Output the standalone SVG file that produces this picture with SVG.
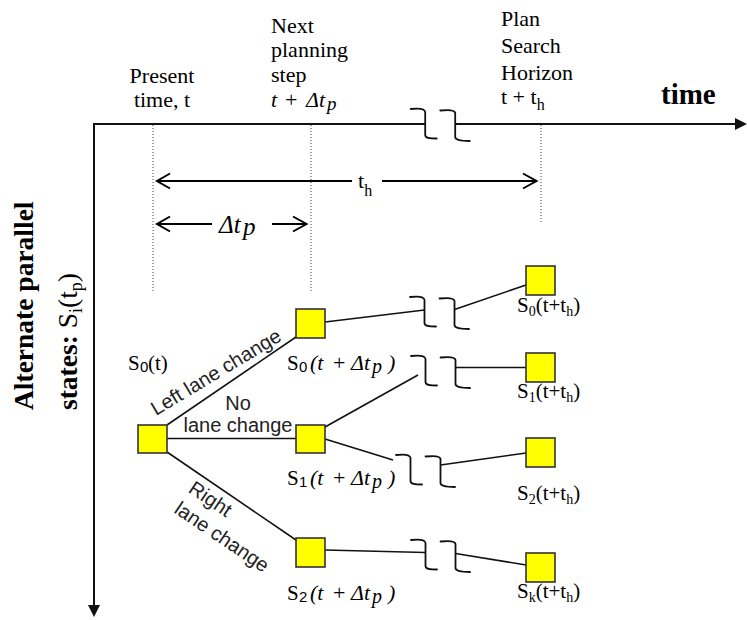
<svg xmlns="http://www.w3.org/2000/svg" width="747" height="620" viewBox="0 0 747 620" font-family="Liberation Serif, Times New Roman, serif">
<style>
text{fill:#000}
.sans{fill:#222}
.it{font-style:italic}
.b{font-weight:bold}
.axis{stroke:#111;stroke-width:2;fill:none}
.dot{stroke:#444;stroke-width:1;stroke-dasharray:1 2;fill:none}
.conn{stroke:#111;stroke-width:1.6;fill:none}
.brk{stroke:#111;stroke-width:1.8;fill:none;stroke-linecap:round}
.node{fill:#ffff00;stroke:#333;stroke-width:1.6}
.dim{stroke:#000;stroke-width:2;fill:none}
.lbl{font-size:21px}
.sub0{font-size:15px}
</style>
<defs>
<path id="brk" d="M0,0 C8,-1 14,-1 14.5,3 L14.5,26 C14.5,29 18,29.5 26,29.5 M29.5,1.5 C38,0.5 44,0.5 44.5,4 L44.5,28 C44.5,31 50,32 59,32"/>
</defs>

<g id="axes">
<line class="axis" x1="93" y1="124" x2="425" y2="124"/>
<line class="axis" x1="455" y1="124" x2="737" y2="124"/>
<polygon points="735,118 747,124 735,130" fill="#111"/>
<line class="axis" x1="94" y1="123" x2="94" y2="606"/>
<polygon points="88,605 100,605 94,617" fill="#111"/>
<use href="#brk" transform="translate(410.7,109)" class="brk"/>
<text class="b" x="661" y="104" font-size="29">time</text>
<text class="b" font-size="27.5" transform="translate(33,410) rotate(-90)">Alternate parallel</text>
<text class="b" font-size="27.5" transform="translate(77,410) rotate(-90)">states: <tspan font-weight="normal">S<tspan font-size="18" dy="5">i</tspan><tspan dy="-5">(t</tspan><tspan font-size="18" dy="5">p</tspan><tspan dy="-5">)</tspan></tspan></text>
</g>

<g id="timeline-labels" font-size="22">
<text x="162" y="83" text-anchor="middle">Present</text>
<text x="162" y="107" text-anchor="middle">time, t</text>
<text x="271" y="33">Next</text>
<text x="271" y="57">planning</text>
<text x="271" y="82">step</text>
<text y="107"><tspan x="271" class="it">t</tspan><tspan x="285">+</tspan><tspan x="306" class="it">Δt</tspan><tspan x="327" y="110" class="it" font-size="19">p</tspan></text>
<text x="501" y="26">Plan</text>
<text x="501" y="53">Search</text>
<text x="501" y="80">Horizon</text>
<text x="501" y="104">t + t<tspan font-size="16" dy="6">h</tspan></text>
</g>

<g id="guides">
<line class="dot" x1="153" y1="125" x2="153" y2="293"/>
<line class="dot" x1="311" y1="125" x2="311" y2="293"/>
<line class="dot" x1="541" y1="125" x2="541" y2="223"/>
<line class="dim" x1="157" y1="181" x2="352" y2="181"/>
<line class="dim" x1="382" y1="181" x2="536" y2="181"/>
<polyline class="dim" points="170,173.5 157,181 170,188.5"/>
<polyline class="dim" points="523,173.5 536.5,181 523,188.5"/>
<text x="358" y="188" font-size="22">t<tspan font-size="16" dy="8">h</tspan></text>
<line class="dim" x1="157" y1="224" x2="212" y2="224"/>
<line class="dim" x1="272" y1="224" x2="306" y2="224"/>
<polyline class="dim" points="170,216.5 157,224 170,231.5"/>
<polyline class="dim" points="293,216.5 306.5,224 293,231.5"/>
<text class="it" y="233" font-size="25"><tspan x="219">Δt</tspan><tspan x="243" y="235" font-size="25">p</tspan></text>
</g>

<g id="connectors">
<line class="conn" x1="167" y1="425" x2="296" y2="337"/>
<line class="conn" x1="167" y1="438.5" x2="296" y2="438.5"/>
<line class="conn" x1="167" y1="452" x2="296" y2="540"/>
<line class="conn" x1="325" y1="322" x2="424.5" y2="310"/>
<line class="conn" x1="454.5" y1="309.5" x2="526" y2="285"/>
<use href="#brk" transform="translate(410,297)" class="brk"/>
<line class="conn" x1="325" y1="427" x2="418" y2="375"/>
<line class="conn" x1="455.5" y1="367.5" x2="526" y2="367.5"/>
<use href="#brk" transform="translate(411,356)" class="brk"/>
<line class="conn" x1="325" y1="439" x2="393" y2="460"/>
<line class="conn" x1="440.5" y1="465" x2="526" y2="453"/>
<use href="#brk" transform="translate(396,455)" class="brk"/>
<line class="conn" x1="325" y1="550" x2="425.5" y2="552.5"/>
<line class="conn" x1="455.5" y1="553.5" x2="526" y2="565"/>
<use href="#brk" transform="translate(411,540)" class="brk"/>
<g font-family="Liberation Sans, Arial, sans-serif" font-size="20">
<text class="sans" transform="translate(156,416) rotate(-31)">Left lane change</text>
<text class="sans" x="238" y="410" text-anchor="middle">No</text>
<text class="sans" x="238" y="432" text-anchor="middle">lane change</text>
<g transform="translate(167,452) rotate(34)">
<text class="sans" x="39" y="21.4">Right</text>
<text class="sans" x="38.5" y="46.4">lane change</text>
</g>
</g>
</g>

<g id="n_root">
<rect class="node" x="138" y="425" width="29" height="28"/>
<text class="lbl" y="370"><tspan x="128">S</tspan><tspan x="140" y="372" class="sub0" font-family="Liberation Sans, Arial, sans-serif">0</tspan><tspan x="148" y="370">(t)</tspan></text>
</g>
<g id="n_L">
<rect class="node" x="296" y="309" width="29" height="29"/>
<text class="lbl" y="370"><tspan x="287">S</tspan><tspan x="299" y="372" class="sub0" font-family="Liberation Sans, Arial, sans-serif">0</tspan><tspan x="310" y="370" class="it" font-size="22">(t</tspan><tspan x="333" font-size="22">+</tspan><tspan x="351" class="it" font-size="22">Δt</tspan><tspan x="372" y="373" class="it" font-size="20">p</tspan><tspan x="388" y="370" class="it" font-size="22">)</tspan></text>
</g>
<g id="n_M">
<rect class="node" x="296" y="425" width="29" height="28"/>
<text class="lbl" y="485"><tspan x="287">S</tspan><tspan x="299" y="487" class="sub0" font-family="Liberation Sans, Arial, sans-serif">1</tspan><tspan x="310" y="485" class="it" font-size="22">(t</tspan><tspan x="333" font-size="22">+</tspan><tspan x="351" class="it" font-size="22">Δt</tspan><tspan x="372" y="488" class="it" font-size="20">p</tspan><tspan x="388" y="485" class="it" font-size="22">)</tspan></text>
</g>
<g id="n_R">
<rect class="node" x="296" y="538" width="29" height="29"/>
<text class="lbl" y="600"><tspan x="287">S</tspan><tspan x="299" y="602" class="sub0" font-family="Liberation Sans, Arial, sans-serif">2</tspan><tspan x="310" y="600" class="it" font-size="22">(t</tspan><tspan x="333" font-size="22">+</tspan><tspan x="351" class="it" font-size="22">Δt</tspan><tspan x="372" y="603" class="it" font-size="20">p</tspan><tspan x="388" y="600" class="it" font-size="22">)</tspan></text>
</g>
<g id="n_h0">
<rect class="node" x="526" y="266" width="29" height="29"/>
<text class="lbl" x="517" y="312">S<tspan font-size="14" dy="4">0</tspan><tspan dy="-4">(t+t</tspan><tspan font-size="14" dy="4">h</tspan><tspan dy="-4">)</tspan></text>
</g>
<g id="n_h1">
<rect class="node" x="526" y="353" width="29" height="29"/>
<text class="lbl" x="517" y="398">S<tspan font-size="14" dy="4">1</tspan><tspan dy="-4">(t+t</tspan><tspan font-size="14" dy="4">h</tspan><tspan dy="-4">)</tspan></text>
</g>
<g id="n_h2">
<rect class="node" x="526" y="438" width="29" height="29"/>
<text class="lbl" x="517" y="500">S<tspan font-size="14" dy="4">2</tspan><tspan dy="-4">(t+t</tspan><tspan font-size="14" dy="4">h</tspan><tspan dy="-4">)</tspan></text>
</g>
<g id="n_hk">
<rect class="node" x="526" y="553" width="29" height="29"/>
<text class="lbl" x="517" y="598">S<tspan font-size="14" dy="4">k</tspan><tspan dy="-4">(t+t</tspan><tspan font-size="14" dy="4">h</tspan><tspan dy="-4">)</tspan></text>
</g>
</svg>
